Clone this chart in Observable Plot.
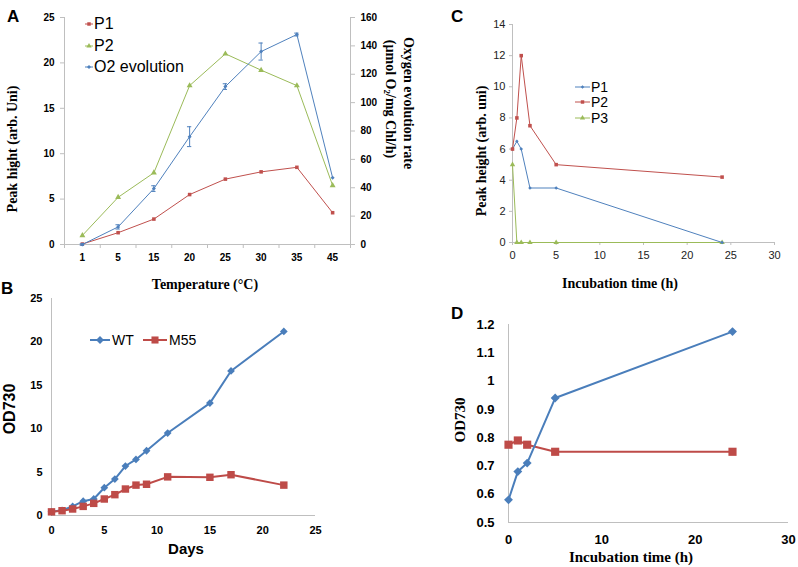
<!DOCTYPE html>
<html><head><meta charset="utf-8">
<script src="https://cdn.jsdelivr.net/npm/d3@7"></script>
<script src="https://cdn.jsdelivr.net/npm/@observablehq/plot@0.6"></script>
<style>
body{margin:0;background:#fff;}
#root{position:relative;width:798px;height:567px;background:#fff;overflow:hidden;}
.t{position:absolute;white-space:nowrap;color:#000;line-height:1;}
.serif{font-family:'Liberation Serif','Times New Roman',serif;font-weight:bold;}
.sans{font-family:'Liberation Sans',Arial,sans-serif;}
.rotL{transform:translate(-50%,-50%) rotate(-90deg);}
.rotR{transform:translate(-50%,-50%) rotate(90deg);}
.ctr{transform:translate(-50%,-50%);}
</style>
</head><body><div id="root"></div>
<script>
// ---------- Panel A data ----------
const tempLabels = ["1","5","15","20","25","30","35","45"];
const p1A = [0.05,1.3,2.8,5.5,7.2,8.0,8.5,3.5];
const p2A = [1.0,5.2,7.9,17.5,21.0,19.2,17.5,6.5];
const o2A = [0,12.4,39.4,76,111.3,136,148,47];
const o2Err = [0.5,1.5,2,7,2,6,1,0];
const leftTicksA = [0,5,10,15,20,25];
const rightTicksA = [0,20,40,60,80,100,120,140,160];

// ---------- Panel B data ----------
const daysB = [0,1,2,3,4,5,6,7,8,9,11,15,17,22];
const wtB = [0.42,0.6,1.04,1.65,1.9,3.2,4.2,5.7,6.46,7.46,9.5,12.95,16.65,21.2];
const m55B = [0.42,0.55,0.75,1.05,1.4,1.9,2.4,3.05,3.5,3.6,4.45,4.4,4.7,3.5];
const ticksB = [0,5,10,15,20,25];

// ---------- Panel C data ----------
const hoursC = [0,0.5,1,2,5,24];
const p1C = [6,6.5,6,3.5,3.5,0];
const p2C = [6,8,12,7.5,5,4.2];
const p3C = [5,0,0,0,0,0];
const xTicksC = [0,5,10,15,20,25,30];
const yTicksC = [0,2,4,6,8,10,12,14];

// ---------- Panel D data ----------
const hoursD = [0,1,2,5,24];
const wtD = [0.58,0.68,0.71,0.94,1.175];
const m55D = [0.775,0.79,0.775,0.75,0.75];
const xTicksD = [0,10,20,30];
const yTicksD = [0.5,0.6,0.7,0.8,0.9,1.0,1.1,1.2];

const red="#c0504d", green="#9bbb59", blue="#4f81bd";
const redB="#be4b48", blueB="#4a7ebb";
const axisGray="#bfbfbf";
const sans="'Liberation Sans', Arial, sans-serif";
const root=document.getElementById("root");
const st=(l,t)=>`position:absolute;left:${l}px;top:${t}px;background:transparent;overflow:visible;max-width:none;font-family:${sans};`;

// ---------- Panel A ----------
const dataA = tempLabels.map((t,i)=>({i,t,p1:p1A[i],p2:p2A[i],o2:o2A[i],err:o2Err[i]}));
const idxA = dataA.map(d=>d.i);
const dimA = {width:420,height:280,marginLeft:64,marginRight:70,marginTop:17,marginBottom:36};
root.append(Plot.plot({...dimA, style:st(0,0),
  x:{domain:[-0.5,7.5]}, y:{domain:[0,25]},
  marks:[
    Plot.ruleY([0],{stroke:axisGray}),
    Plot.ruleX([-0.5],{stroke:axisGray}),
    Plot.ruleX([7.5],{stroke:axisGray}),
    Plot.axisY({ticks:leftTicksA,tickSize:4,tickPadding:6,stroke:axisGray,fill:"#000",fontWeight:"bold",fontSize:10,label:null}),
    Plot.axisX({ticks:idxA,tickSize:0,tickPadding:9,tickFormat:i=>tempLabels[i],fontWeight:"bold",fontSize:10,label:null}),
    Plot.axisX({ticks:d3.range(-0.5,8,1),tickSize:4,tickFormat:()=>"",stroke:axisGray,label:null}),
    Plot.line(dataA,{x:"i",y:"p2",stroke:green,strokeWidth:1}),
    Plot.dot(dataA,{x:"i",y:"p2",symbol:"triangle",fill:green,r:2.2}),
    Plot.line(dataA,{x:"i",y:"p1",stroke:red,strokeWidth:1}),
    Plot.dot(dataA,{x:"i",y:"p1",symbol:"square",fill:red,r:2}),
  ]}));
const errA = dataA.filter(d=>d.err>0);
root.append(Plot.plot({...dimA, style:st(0,0),
  x:{domain:[-0.5,7.5],axis:null}, y:{domain:[0,160]},
  marks:[
    Plot.axisY({anchor:"right",ticks:rightTicksA,tickSize:4,tickPadding:6,stroke:axisGray,fill:"#000",fontWeight:"bold",fontSize:10,label:null}),
    Plot.ruleX(errA,{x:"i",y1:d=>d.o2-d.err,y2:d=>d.o2+d.err,stroke:blue}),
    Plot.ruleY(errA,{y:d=>d.o2+d.err,x1:d=>d.i-0.06,x2:d=>d.i+0.06,stroke:blue}),
    Plot.ruleY(errA,{y:d=>d.o2-d.err,x1:d=>d.i-0.06,x2:d=>d.i+0.06,stroke:blue}),
    Plot.line(dataA,{x:"i",y:"o2",stroke:blue,strokeWidth:1}),
    Plot.dot(dataA,{x:"i",y:"o2",symbol:"diamond2",fill:blue,r:1.8}),
  ]}));

// ---------- Panel B ----------
const dataB = daysB.map((d,i)=>({d,wt:wtB[i],m55:m55B[i]}));
root.append(Plot.plot({width:400,height:287,marginLeft:51,marginRight:85,marginTop:18,marginBottom:52,style:st(0,280),
  x:{domain:[0,25]}, y:{domain:[0,25]},
  marks:[
    Plot.ruleY([0],{stroke:axisGray}),
    Plot.ruleX([0],{stroke:axisGray}),
    Plot.axisY({ticks:ticksB,tickSize:0,tickPadding:9,fontWeight:"bold",fontSize:11,label:null}),
    Plot.axisX({ticks:ticksB,tickSize:0,tickPadding:11,fontWeight:"bold",fontSize:11,label:null}),
    Plot.line(dataB,{x:"d",y:"wt",stroke:blueB,strokeWidth:2}),
    Plot.dot(dataB,{x:"d",y:"wt",symbol:"diamond2",fill:blueB,r:3.5}),
    Plot.line(dataB,{x:"d",y:"m55",stroke:redB,strokeWidth:2}),
    Plot.dot(dataB,{x:"d",y:"m55",symbol:"square",fill:redB,r:4.2}),
  ]}));

// ---------- Panel C ----------
const dataC = hoursC.map((h,i)=>({h,p1:p1C[i],p2:p2C[i],p3:p3C[i]}));
root.append(Plot.plot({width:398,height:280,marginLeft:112,marginRight:24,marginTop:24,marginBottom:38,style:st(400,0),
  x:{domain:[0,30]}, y:{domain:[0,14]},
  marks:[
    Plot.ruleY([0],{stroke:axisGray}),
    Plot.ruleX([0],{stroke:axisGray}),
    Plot.axisY({ticks:yTicksC,tickSize:3,tickPadding:4,stroke:axisGray,fill:"#222",fontSize:11,label:null}),
    Plot.axisX({ticks:xTicksC,tickSize:3,tickPadding:6,stroke:axisGray,fill:"#222",fontSize:11,label:null}),
    Plot.line(dataC,{x:"h",y:"p3",stroke:green,strokeWidth:1}),
    Plot.dot(dataC,{x:"h",y:"p3",symbol:"triangle",fill:green,r:2}),
    Plot.line(dataC,{x:"h",y:"p1",stroke:blue,strokeWidth:1}),
    Plot.dot(dataC,{x:"h",y:"p1",symbol:"diamond2",fill:blue,r:1.6}),
    Plot.line(dataC,{x:"h",y:"p2",stroke:red,strokeWidth:1}),
    Plot.dot(dataC,{x:"h",y:"p2",symbol:"square",fill:red,r:2}),
  ]}));

// ---------- Panel D ----------
const dataD = hoursD.map((h,i)=>({h,wt:wtD[i],m55:m55D[i]}));
root.append(Plot.plot({width:398,height:287,marginLeft:108,marginRight:10,marginTop:44,marginBottom:45,style:st(400,280),
  x:{domain:[0,30]}, y:{domain:[0.5,1.2]},
  marks:[
    Plot.ruleY([0.5],{stroke:axisGray}),
    Plot.ruleX([0],{stroke:axisGray}),
    Plot.axisY({ticks:yTicksD,tickSize:0,tickPadding:14,tickFormat:d=>String(+d.toFixed(1)),fontWeight:"bold",fontSize:13,label:null}),
    Plot.axisX({ticks:xTicksD,tickSize:0,tickPadding:12,fontWeight:"bold",fontSize:13,label:null}),
    Plot.line(dataD,{x:"h",y:"m55",stroke:redB,strokeWidth:2}),
    Plot.dot(dataD,{x:"h",y:"m55",symbol:"square",fill:redB,r:4.6}),
    Plot.line(dataD,{x:"h",y:"wt",stroke:blueB,strokeWidth:2}),
    Plot.dot(dataD,{x:"h",y:"wt",symbol:"diamond2",fill:blueB,r:4}),
  ]}));

// ---------- Text & legends ----------
function txt(s,x,y,cls,size){
  const e=document.createElement("div");
  e.className="t "+cls; e.textContent=s;
  e.style.left=x+"px"; e.style.top=y+"px"; e.style.fontSize=size+"px";
  root.append(e); return e;
}
txt("A",7,8,"sans",17).style.fontWeight="bold";
txt("B",1,280,"sans",17).style.fontWeight="bold";
txt("C",451,8,"sans",17).style.fontWeight="bold";
txt("D",451,305,"sans",17).style.fontWeight="bold";

txt("Peak hight (arb. Uni)",13,149,"serif rotL",14);
txt("Oxygen evolution rate",408,103,"serif rotR",14);
const o2t = txt("",390,99,"serif rotR",14);
o2t.innerHTML="(µmol O<sub style='font-size:9px;vertical-align:-2px;line-height:0'>2</sub>/mg Chl/h)";
txt("Temperature (°C)",205,285,"serif ctr",14);

txt("OD730",10,409,"sans rotL",16).style.fontWeight="bold";
txt("Days",186,548,"sans ctr",15).style.fontWeight="bold";

txt("Peak height (arb. uni)",482,151,"serif rotL",14);
txt("Incubation time (h)",620,284,"serif ctr",14);

txt("OD730",460,420,"serif rotL",15);
txt("Incubation time (h)",631,557,"serif ctr",15);

function legendItem(x,y,label,color,sym,lineLen,lineW,symSize,fontSize,gap){
  const ns="http://www.w3.org/2000/svg";
  const svg=document.createElementNS(ns,"svg");
  svg.setAttribute("width",lineLen+2); svg.setAttribute("height",20);
  svg.style.position="absolute"; svg.style.left=x+"px"; svg.style.top=(y-10)+"px"; svg.style.overflow="visible";
  const l=document.createElementNS(ns,"line");
  l.setAttribute("x1",0);l.setAttribute("x2",lineLen);l.setAttribute("y1",10);l.setAttribute("y2",10);
  l.setAttribute("stroke",color);l.setAttribute("stroke-width",lineW);
  svg.append(l);
  const p=document.createElementNS(ns,"path");
  p.setAttribute("d",d3.symbol(sym,symSize)());
  p.setAttribute("transform",`translate(${lineLen/2},10)`);
  p.setAttribute("fill",color);
  svg.append(p);
  root.append(svg);
  const t=txt(label,x+lineLen+gap,y,"sans",fontSize);
  t.style.transform="translateY(-50%)";
}
legendItem(85,24,"P1",red,d3.symbolSquare,8,1,12,16,1);
legendItem(85,46,"P2",green,d3.symbolTriangle,8,1,12,16,1);
legendItem(85,67,"O2 evolution",blue,d3.symbolDiamond2,8,1,10,16,1);

legendItem(90,340,"WT",blueB,d3.symbolDiamond2,20,2,40,14,2);
legendItem(143,340,"M55",redB,d3.symbolSquare,24,2,50,14,2);

legendItem(575,87,"P1",blue,d3.symbolDiamond2,15,1,8,14,1);
legendItem(575,102,"P2",red,d3.symbolSquare,15,1,12,14,1);
legendItem(575,118,"P3",green,d3.symbolTriangle,15,1,12,14,1);
</script>
</body></html>
